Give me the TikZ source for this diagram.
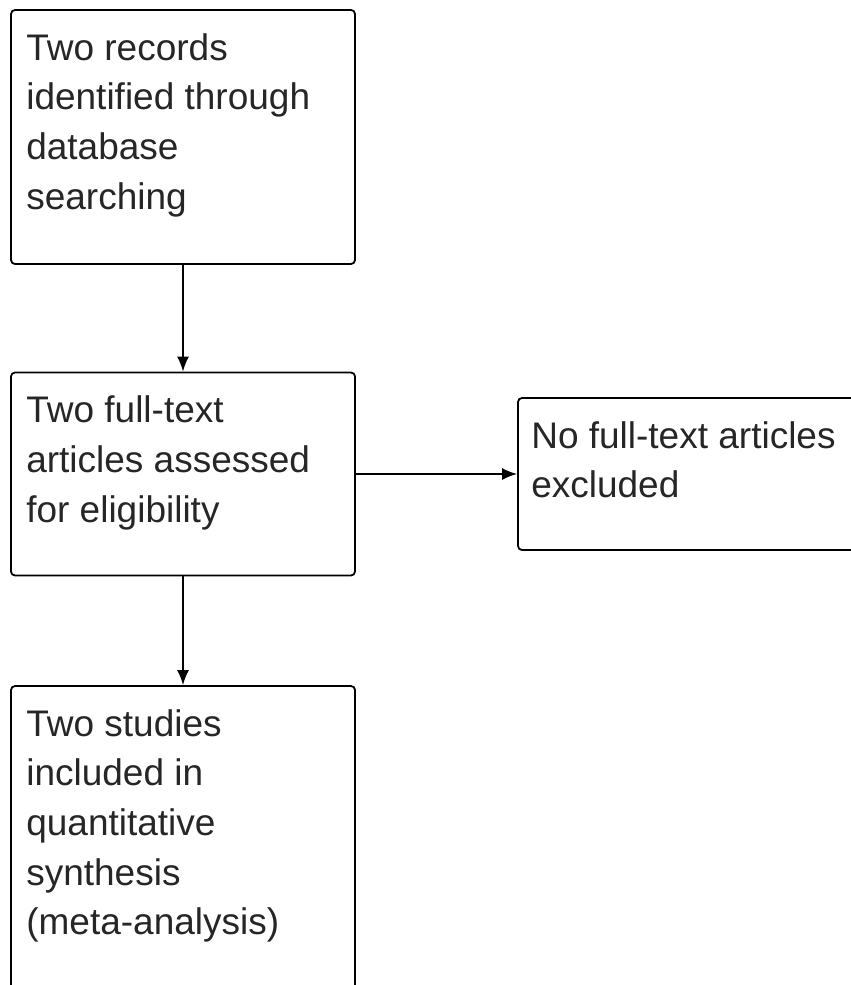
\documentclass[tikz,border=0pt]{standalone}
\usepackage{fontspec}
\setmainfont{Liberation Sans}
\usetikzlibrary{positioning,arrows.meta}
\tikzset{
	stagebox/.style={draw,line width=1.8pt,rounded corners=4pt,inner sep=0pt},
	stagetext/.style={anchor=north west,inner sep=0pt,align=left,text=black!85,font=\fontsize{37}{49.7}\selectfont},
	flow/.style={-{Latex[length=15pt,width=12pt]},line width=1.8pt}
}
\begin{document}
\begin{tikzpicture}[x=1pt,y=-1pt]
	\useasboundingbox (0,0) rectangle (851,985);
	% boxes
	\node[stagebox,minimum width=344pt,minimum height=254pt] (records) at (183,137) {};
	\node[stagebox,minimum width=344pt,minimum height=203pt] (fulltext) at (183,474) {};
	\node[stagebox,minimum width=362pt,minimum height=152pt] (excluded) at (699,474) {};
	\node[stagebox,minimum width=344pt,minimum height=330pt] (studies) at (183,851) {};
	% texts
	\node[below right=24pt and 16pt of records.north west,stagetext] (recordstext) {Two records\\identified through\\database\\searching};
	\node[below right=24pt and 16pt of fulltext.north west,stagetext] (fulltexttext) {Two full-text\\articles assessed\\for eligibility};
	\node[below right=24pt and 14pt of excluded.north west,stagetext] (excludedtext) {No full-text articles\\excluded};
	\node[below right=24pt and 16pt of studies.north west,stagetext] (studiestext) {Two studies\\included in\\quantitative\\synthesis\\(meta-analysis)};
	% arrows
	\draw[flow] (records) -- (fulltext);
	\draw[flow] (fulltext) -- (excluded);
	\draw[flow] (fulltext) -- (studies);
\end{tikzpicture}
\end{document}
